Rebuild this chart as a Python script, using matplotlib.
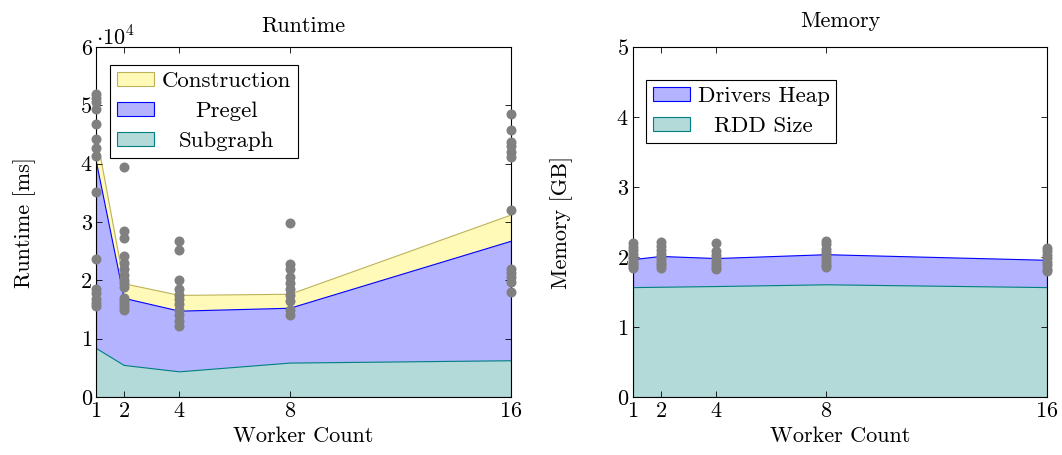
import matplotlib.pyplot as plt
import numpy as np
from matplotlib.ticker import FuncFormatter
from matplotlib.patches import Patch

plt.rcParams['font.family'] = ['cmr10', 'DejaVu Serif']
plt.rcParams['mathtext.fontset'] = 'cm'
plt.rcParams['axes.unicode_minus'] = False
plt.rcParams['axes.formatter.use_mathtext'] = True

FS = 16
LFS = 16.5

# 数据
workers = [1, 2, 4, 8, 16]

# Runtime [ms]
subgraph = [8400, 5500, 4400, 5900, 6300]
pregel = [31900, 11500, 10400, 9400, 20500]
construction = [4700, 2500, 2700, 2400, 4500]

runtime_points = {
    1: [52000, 51200, 50500, 49300, 46800, 44300, 42700, 41300, 35200, 23700,
        18500, 17800, 16800, 16200, 15600],
    2: [39500, 28500, 27200, 24200, 23000, 22000, 21000, 20000, 19500, 18800,
        17000, 16500, 16000, 15500, 15000],
    4: [26700, 25200, 20000, 18500, 17500, 16800, 16000, 15000, 14000, 13000, 12200],
    8: [29800, 22800, 22000, 20600, 19500, 18500, 17500, 16500, 15000, 14000],
    16: [48500, 45800, 43800, 43000, 42000, 41200, 32000, 22000, 21200, 20500,
         19700, 18000],
}

# Memory [GB]
rdd_size = [1.57, 1.575, 1.585, 1.61, 1.57]
drivers_heap = [0.40, 0.44, 0.40, 0.43, 0.39]

memory_points = {
    1: [2.2, 2.15, 2.1, 2.05, 2.0, 1.97, 1.93, 1.9, 1.87, 1.85],
    2: [2.21, 2.16, 2.1, 2.05, 2.0, 1.96, 1.92, 1.88, 1.84],
    4: [2.2, 2.08, 2.03, 1.98, 1.94, 1.9, 1.86, 1.83],
    8: [2.23, 2.18, 2.12, 2.07, 2.02, 1.97, 1.93, 1.89, 1.86],
    16: [2.13, 2.08, 2.03, 1.98, 1.93, 1.88, 1.83, 1.8],
}

# 颜色
c_constr = ('#fffab8', '#bdb25a')
c_pregel = ('#b3b3ff', '#0000ff')
c_sub = ('#b3d9d9', '#008080')
c_dot = '#808080'


def style_axis(ax):
    ax.tick_params(direction='in', top=True, right=True, length=4, width=0.6,
                   labelsize=FS, pad=3)
    for s in ax.spines.values():
        s.set_linewidth(0.8)


def stacked(ax, x, layers):
    # 从上到下依次绘制, 每层都从 0 开始填充
    cum = np.cumsum(np.array([l[0] for l in layers]), axis=0)
    for i in range(len(layers) - 1, -1, -1):
        fc, ec = layers[i][1]
        ax.fill_between(x, 0, cum[i], facecolor=fc, edgecolor=ec, linewidth=0.8)


def center_legend_texts(fig, leg):
    fig.canvas.draw()
    r = fig.canvas.get_renderer()
    texts = leg.get_texts()
    widths = [t.get_window_extent(r).width for t in texts]
    w = max(widths)
    for t, tw in zip(texts, widths):
        t.set_x((w - tw) / 2)


def make_legend(ax, handles, labels, anchor):
    leg = ax.legend(handles, labels, loc='upper left', bbox_to_anchor=anchor,
                    fontsize=LFS, fancybox=False, framealpha=1, edgecolor='black',
                    borderpad=0.3, labelspacing=0.45, handlelength=1.6,
                    handleheight=0.55, handletextpad=0.35, borderaxespad=0)
    leg.get_frame().set_linewidth(0.8)
    return leg


fig = plt.figure(figsize=(10.62, 4.55), dpi=100)
ax1 = fig.add_axes([96 / 1062, 58 / 455, 415 / 1062, 350 / 455])
ax2 = fig.add_axes([633 / 1062, 58 / 455, 414 / 1062, 350 / 455])

# Runtime
stacked(ax1, workers, [(subgraph, c_sub), (pregel, c_pregel), (construction, c_constr)])
for w, pts in runtime_points.items():
    ax1.scatter([w] * len(pts), pts, s=52, color=c_dot, zorder=5, clip_on=False,
                linewidths=0)
ax1.set_xlim(1, 16)
ax1.set_ylim(0, 60000)
ax1.set_xticks(workers)
ax1.set_yticks(np.arange(0, 60001, 10000))
ax1.yaxis.set_major_formatter(FuncFormatter(lambda v, p: '%d' % round(v / 10000)))
ax1.text(0.0, 1 + 2 / 350, r'$\cdot 10^4$', transform=ax1.transAxes, fontsize=FS,
         ha='left', va='baseline')
ax1.set_title('Runtime', fontsize=FS, pad=10.8)
ax1.set_xlabel('Worker Count', fontsize=FS, labelpad=4)
ax1.set_ylabel('Runtime [ms]', fontsize=FS, labelpad=32)
style_axis(ax1)

h1 = [Patch(facecolor=c_constr[0], edgecolor=c_constr[1], linewidth=0.8),
      Patch(facecolor=c_pregel[0], edgecolor=c_pregel[1], linewidth=0.8),
      Patch(facecolor=c_sub[0], edgecolor=c_sub[1], linewidth=0.8)]
leg1 = make_legend(ax1, h1, ['Construction', 'Pregel', 'Subgraph'],
                   (14 / 415, 1 - 18 / 350))

# Memory
stacked(ax2, workers, [(rdd_size, c_sub), (drivers_heap, c_pregel)])
for w, pts in memory_points.items():
    ax2.scatter([w] * len(pts), pts, s=52, color=c_dot, zorder=5, clip_on=False,
                linewidths=0)
ax2.set_xlim(1, 16)
ax2.set_ylim(0, 5)
ax2.set_xticks(workers)
ax2.set_yticks(range(0, 6))
ax2.set_title('Memory', fontsize=FS, pad=14.4)
ax2.set_xlabel('Worker Count', fontsize=FS, labelpad=4)
ax2.set_ylabel('Memory [GB]', fontsize=FS, labelpad=31)
style_axis(ax2)

h2 = [Patch(facecolor=c_pregel[0], edgecolor=c_pregel[1], linewidth=0.8),
      Patch(facecolor=c_sub[0], edgecolor=c_sub[1], linewidth=0.8)]
leg2 = make_legend(ax2, h2, ['Drivers Heap', 'RDD Size'], (13 / 414, 1 - 33 / 350))

center_legend_texts(fig, leg1)
center_legend_texts(fig, leg2)

plt.savefig('out.png', dpi=100)
